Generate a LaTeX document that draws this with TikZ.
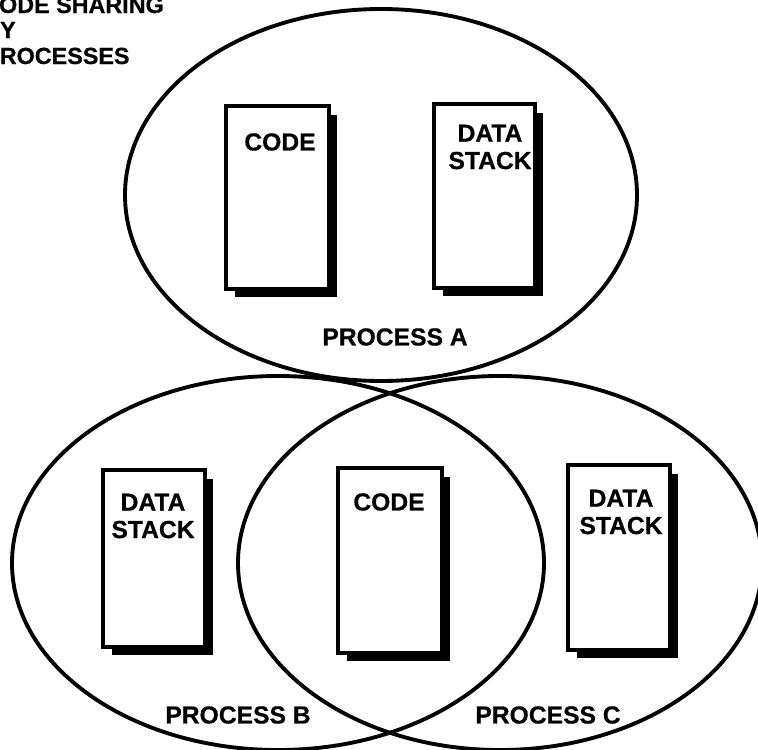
\documentclass[tikz,border=0pt]{standalone}
\usepackage{fontspec}
\setmainfont{Liberation Sans}[BoldFeatures={FakeBold=0.6}]
\tikzset{
  ring/.style={line width=2.9pt},
  lbl/.style={font=\fontsize{18.5}{20.5}\selectfont\bfseries, inner sep=0pt, align=center},
  ttl/.style={font=\fontsize{17.5}{20}\selectfont\bfseries, inner sep=0pt, anchor=base west},
  boxline/.style={draw, line width=2.4pt, fill=white},
  shade/.style={fill=black}
}
\newcommand\memblock[4]{%
  \fill[shade] (#1+9,#2+9) rectangle (#3+8,#4+8);
  \draw[boxline] (#1,#2) rectangle (#3,#4);}
\begin{document}
\begin{tikzpicture}[x=0.75pt,y=-0.75pt]
\useasboundingbox (0,0) rectangle (758,750);
% processes
\draw[ring] (381,195) ellipse [x radius=256, y radius=186];
\draw[ring] (278,563) ellipse [x radius=266, y radius=187];
\draw[ring] (500,563) ellipse [x radius=262, y radius=187];
% title
\node[ttl] (t1) at (-18,13) {CODE SHARING};
\node[ttl] (t2) at (-17,38) {BY};
\node[ttl] (t3) at (-16,64) {PROCESSES};
% blocks
\memblock{226}{106}{329}{289}
\memblock{434}{104}{535}{288}
\memblock{103}{470}{205}{647}
\memblock{338}{468}{442}{653}
\memblock{568}{465}{670}{650}
% block labels
\node[lbl] (codeA) at (280,142) {CODE};
\node[lbl] (dataA) at (490,147) {DATA\\STACK};
\node[lbl] (dataB) at (153,516) {DATA\\STACK};
\node[lbl] (codeBC) at (389,502) {CODE};
\node[lbl] (dataC) at (621,512) {DATA\\STACK};
% process labels
\node[lbl] (pa) at (395,337) {PROCESS A};
\node[lbl] (pb) at (238,715) {PROCESS B};
\node[lbl] (pc) at (548,715) {PROCESS C};
\end{tikzpicture}
\end{document}
